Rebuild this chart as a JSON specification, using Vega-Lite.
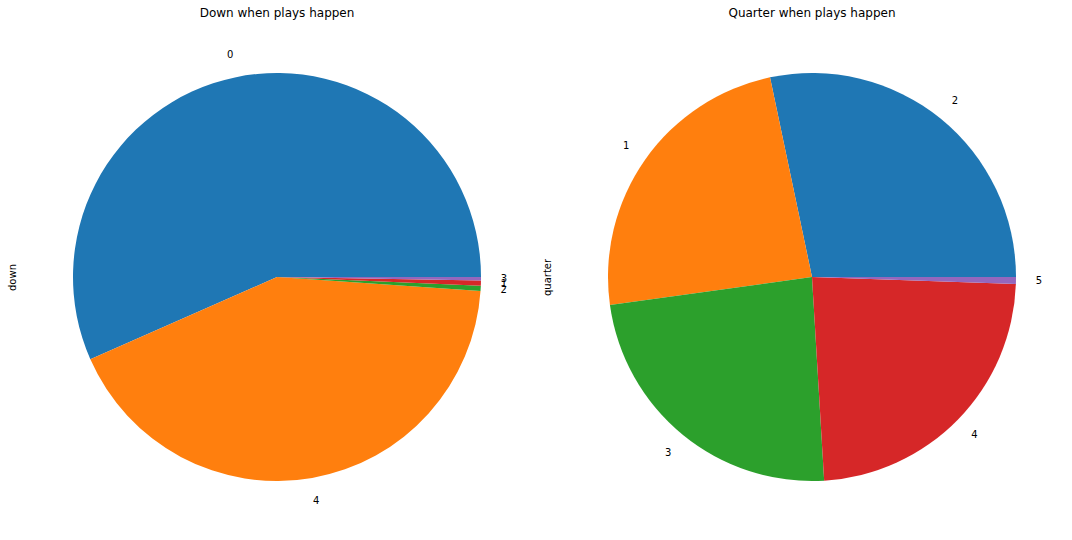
{
  "$schema": "https://vega.github.io/schema/vega-lite/v6.json",
  "background": "white",
  "padding": {"left": 7, "top": 7, "right": 0, "bottom": 0},
  "spacing": 15,
  "config": {
    "view": {"stroke": null},
    "font": "DejaVu Sans",
    "title": {"fontSize": 12, "fontWeight": "normal", "color": "black", "offset": 11, "font": "DejaVu Sans"},
    "axis": {"titleFont": "DejaVu Sans", "titleFontSize": 10, "titleFontWeight": "normal", "titleColor": "black"}
  },
  "datasets": {
    "down": [
      {"label": "0", "count": 5661, "idx": 0},
      {"label": "4", "count": 4230, "idx": 1},
      {"label": "2", "count": 40, "idx": 2},
      {"label": "1", "count": 42, "idx": 3},
      {"label": "3", "count": 27, "idx": 4}
    ],
    "quarter": [
      {"label": "2", "count": 2830, "idx": 0},
      {"label": "1", "count": 2390, "idx": 1},
      {"label": "3", "count": 2375, "idx": 2},
      {"label": "4", "count": 2350, "idx": 3},
      {"label": "5", "count": 55, "idx": 4}
    ]
  },
  "hconcat": [
    {
      "title": "Down when plays happen",
      "width": 500,
      "height": 492,
      "data": {"name": "down"},
      "encoding": {
        "theta": {"field": "count", "type": "quantitative", "stack": true, "scale": {"range": [1.5707963, -4.712389]}},
        "order": {"field": "idx", "type": "quantitative"},
        "y": {"datum": "a", "type": "nominal", "scale": {"type": "point"}, "axis": {"title": "down", "labels": false, "ticks": false, "domain": false, "grid": false, "titlePadding": 10}}
      },
      "layer": [
        {
          "mark": {"type": "arc", "radius": 204},
          "encoding": {
            "color": {"field": "idx", "type": "nominal", "scale": {"domain": [0, 1, 2, 3, 4], "range": ["#1f77b4", "#ff7f0e", "#2ca02c", "#d62728", "#9467bd"]}, "legend": null}
          }
        },
        {
          "mark": {"type": "text", "radius": 227, "fontSize": 10, "color": "black", "align": "center", "baseline": "middle"},
          "encoding": {"text": {"field": "label"}}
        }
      ]
    },
    {
      "title": "Quarter when plays happen",
      "width": 500,
      "height": 492,
      "data": {"name": "quarter"},
      "encoding": {
        "theta": {"field": "count", "type": "quantitative", "stack": true, "scale": {"range": [1.5707963, -4.712389]}},
        "order": {"field": "idx", "type": "quantitative"},
        "y": {"datum": "a", "type": "nominal", "scale": {"type": "point"}, "axis": {"title": "quarter", "labels": false, "ticks": false, "domain": false, "grid": false, "titlePadding": 10}}
      },
      "layer": [
        {
          "mark": {"type": "arc", "radius": 204},
          "encoding": {
            "color": {"field": "idx", "type": "nominal", "scale": {"domain": [0, 1, 2, 3, 4], "range": ["#1f77b4", "#ff7f0e", "#2ca02c", "#d62728", "#9467bd"]}, "legend": null}
          }
        },
        {
          "mark": {"type": "text", "radius": 227, "fontSize": 10, "color": "black", "align": "center", "baseline": "middle"},
          "encoding": {"text": {"field": "label"}}
        }
      ]
    }
  ]
}
